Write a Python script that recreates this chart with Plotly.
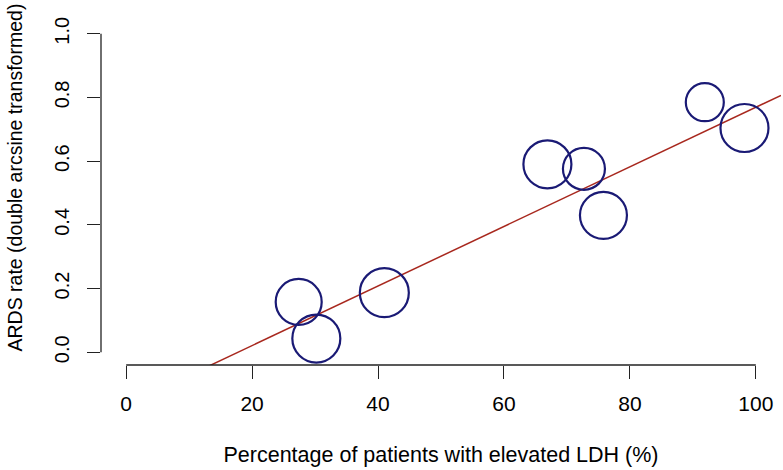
import plotly.graph_objects as go

# Data
ldh_pct = [27.4, 30.2, 41.0, 66.9, 72.7, 75.8, 91.9, 98.2]
ards_rate = [0.158, 0.043, 0.187, 0.590, 0.576, 0.430, 0.785, 0.704]
bubble_size = [46, 48, 49, 48, 42, 47, 38, 48]
reg_intercept = -0.166
reg_slope = 0.00935
x_ticks = [0, 20, 40, 60, 80, 100]
y_ticks = [0.0, 0.2, 0.4, 0.6, 0.8, 1.0]
y_tick_text = ["0.0", "0.2", "0.4", "0.6", "0.8", "1.0"]
x_title = "Percentage of patients with elevated LDH (%)"
y_title = "ARDS rate (double arcsine transformed)"

FONT = "Liberation Sans, Arial, Helvetica, sans-serif"
xr = [-4, 104]
yr = [-0.04, 1.04]

fig = go.Figure()
line_x = [xr[0], xr[1]]
line_y = [reg_intercept + reg_slope * v for v in line_x]
fig.add_trace(go.Scatter(x=line_x, y=line_y, mode="lines",
                         line=dict(color="#A8281E", width=1.5),
                         hoverinfo="skip", showlegend=False))
fig.add_trace(go.Scatter(x=ldh_pct, y=ards_rate, mode="markers",
                         marker=dict(size=bubble_size, sizemode="diameter",
                                     color="rgba(0,0,0,0)", opacity=1,
                                     line=dict(color="#1A1A75", width=2.2)),
                         cliponaxis=False, showlegend=False))

fig.update_layout(
    width=783, height=470,
    margin=dict(l=101, r=2, t=21, b=105, pad=0, autoexpand=False),
    plot_bgcolor="white", paper_bgcolor="white",
    font=dict(family=FONT, size=20, color="black"),
    xaxis=dict(range=xr, tickvals=x_ticks, ticks="outside", ticklen=13,
               tickwidth=1.3, tickcolor="#222", showgrid=False, zeroline=False,
               showline=False, tickfont=dict(size=21), ticklabelstandoff=7,
               automargin=False,
               title=dict(text=x_title, font=dict(size=21.5), standoff=32)),
    yaxis=dict(range=yr, tickvals=y_ticks, ticktext=y_tick_text, ticks="outside",
               ticklen=13, tickwidth=1.3, tickcolor="#222", showgrid=False,
               zeroline=False, showline=False, tickangle=-90,
               tickfont=dict(size=20), ticklabelstandoff=10, automargin=False),
)
fig.add_annotation(text=y_title, xref="paper", yref="paper", x=0, y=0.545,
                   xshift=-86, xanchor="center", yanchor="middle",
                   textangle=-90, showarrow=False,
                   font=dict(family=FONT, size=19.5, color="black"))
# R-style axis lines spanning only the tick range
fig.add_shape(type="line", xref="x", yref="paper", x0=x_ticks[0], x1=x_ticks[-1],
              y0=0, y1=0, line=dict(color="#222", width=1.3))
fig.add_shape(type="line", xref="paper", yref="y", x0=0, x1=0,
              y0=y_ticks[0], y1=y_ticks[-1], line=dict(color="#222", width=1.3))

fig.write_html("out.html", config={"displayModeBar": False},
               post_script="document.body.style.margin='0';")
